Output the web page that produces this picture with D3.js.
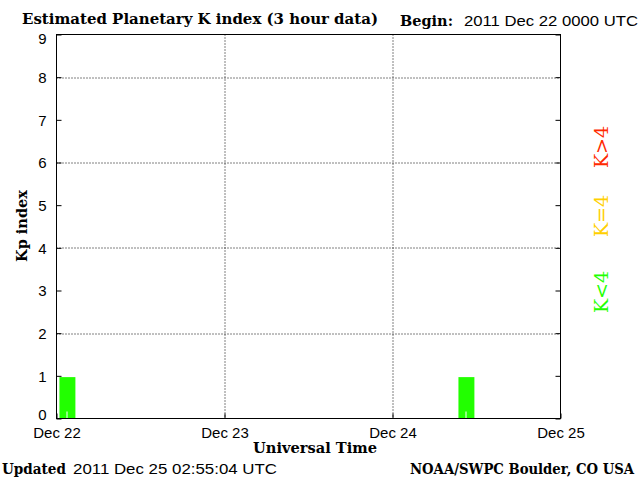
<!DOCTYPE html>
<html>
<head>
<meta charset="utf-8">
<script src="https://cdn.jsdelivr.net/npm/d3@7"></script>
<style>
  body { margin: 0; background: #fff; }
  svg { display: block; }
</style>
</head>
<body>
<div id="zone_graphique"></div>
<script>
var largeur = 640;
var hauteur = 480;

// donnees : debut de chaque periode de 3 h et valeur Kp
var periodes = ["2011-12-22T00:00Z", "2011-12-24T09:00Z"];
var valeursKp = [0.97, 0.97];
var ticksJours = ["2011-12-22T00:00Z", "2011-12-23T00:00Z", "2011-12-24T00:00Z", "2011-12-25T00:00Z"];
var etiquettesJours = ["Dec 22", "Dec 23", "Dec 24", "Dec 25"];
var ticksKp = [0, 1, 2, 3, 4, 5, 6, 7, 8, 9];
var grilleKp = [2, 4, 6, 8];
var legende = [
  {texte: "K<4", couleur: "#22ff00", y: 292},
  {texte: "K=4", couleur: "#ffd000", y: 216},
  {texte: "K>4", couleur: "#ff2a00", y: 147}
];

var marge = {haut: 34.5, droite: 79.5, bas: 61.5, gauche: 56.5},
    width = largeur - marge.gauche - marge.droite,
    height = hauteur - marge.haut - marge.bas;

var serif = "'DejaVu Serif', serif";
var sans = "'Liberation Sans', Arial, sans-serif";

var svg = d3.select("#zone_graphique")
    .append("svg")
        .attr("width", largeur)
        .attr("height", hauteur);

var g = svg.append("g")
    .attr("transform", "translate(" + marge.gauche + "," + marge.haut + ")");

var x = d3.scaleUtc()
    .domain([new Date(ticksJours[0]), new Date(ticksJours[3])])
    .range([0, width]);

var y = d3.scaleLinear()
    .domain([0, 9])
    .range([height, 0]);

var troisHeures = 3 * 3600 * 1000;

// grille pointillee
g.selectAll(".grilleH")
    .data(grilleKp)
    .enter()
    .append("line")
        .attr("x1", 0)
        .attr("x2", width)
        .attr("y1", function (d) { return Math.round(y(d)) + 0.5; })
        .attr("y2", function (d) { return Math.round(y(d)) + 0.5; })
        .attr("stroke", "#000")
        .attr("stroke-dasharray", "1,2");

g.selectAll(".grilleV")
    .data(ticksJours.slice(1, 3))
    .enter()
    .append("line")
        .attr("x1", function (d) { return Math.round(x(new Date(d))) + 0.5; })
        .attr("x2", function (d) { return Math.round(x(new Date(d))) + 0.5; })
        .attr("y1", 0)
        .attr("y2", height)
        .attr("stroke", "#000")
        .attr("stroke-dasharray", "1,2");

// barres
g.selectAll(".barre")
    .data(periodes)
    .enter()
    .append("rect")
        .attr("x", function (d) { return x(new Date(+new Date(d) + troisHeures * 0.14)); })
        .attr("width", function (d) { return x(new Date(+new Date(d) + troisHeures * 0.9)) - x(new Date(+new Date(d) + troisHeures * 0.14)); })
        .attr("y", function (d, i) { return y(valeursKp[i]); })
        .attr("height", function (d, i) { return height - y(valeursKp[i]); })
        .attr("fill", "#22ff00");

// petit trait blanc dans chaque barre
g.selectAll(".trait")
    .data(periodes)
    .enter()
    .append("line")
        .attr("x1", function (d) { return Math.round(x(new Date(+new Date(d) + troisHeures * 0.48))) + 0.5; })
        .attr("x2", function (d) { return Math.round(x(new Date(+new Date(d) + troisHeures * 0.48))) + 0.5; })
        .attr("y1", height - 7)
        .attr("y2", height)
        .attr("stroke", "#fff");

// cadre
g.append("rect")
    .attr("width", width)
    .attr("height", height)
    .attr("fill", "none")
    .attr("stroke", "#000");

// axes
var axeY = g.append("g")
    .call(d3.axisLeft(y).tickValues(ticksKp).tickSize(-5).tickPadding(10).tickFormat(d3.format("d")));
var axeYd = g.append("g")
    .attr("transform", "translate(" + width + ",0)")
    .call(d3.axisRight(y).tickValues(ticksKp).tickSize(-5).tickFormat(""));
var axeX = g.append("g")
    .attr("transform", "translate(0," + height + ")")
    .call(d3.axisBottom(x)
        .tickValues(ticksJours.map(function (d) { return new Date(d); }))
        .tickSize(-5).tickPadding(9)
        .tickFormat(function (d, i) { return etiquettesJours[i]; }));

[axeY, axeYd, axeX].forEach(function (a) {
    a.select(".domain").remove();
    a.selectAll("line").attr("stroke", "#000");
    a.selectAll("text")
        .attr("fill", "#000")
        .attr("font-family", sans)
        .attr("font-size", "15px");
});
axeY.selectAll("text").attr("dy", "0.35em");
axeY.selectAll("text").filter(function (d) { return d === 0; }).attr("dy", "0.05em");
axeY.selectAll("text").filter(function (d) { return d === 9; }).attr("dy", "0.6em");
axeX.selectAll("text").attr("dy", "0.71em");

// textes
svg.append("text")
    .attr("x", 22).attr("y", 24)
    .attr("font-family", serif).attr("font-weight", "bold").attr("font-size", "14px")
    .attr("textLength", 356).attr("lengthAdjust", "spacingAndGlyphs")
    .text("Estimated Planetary K index (3 hour data)");

svg.append("text")
    .attr("x", 400).attr("y", 26)
    .attr("font-family", serif).attr("font-weight", "bold").attr("font-size", "14px")
    .attr("textLength", 53).attr("lengthAdjust", "spacingAndGlyphs")
    .text("Begin:");

svg.append("text")
    .attr("x", 464).attr("y", 26)
    .attr("font-family", sans).attr("font-size", "15px")
    .attr("textLength", 174).attr("lengthAdjust", "spacingAndGlyphs")
    .text("2011 Dec 22 0000 UTC");

svg.append("text")
    .attr("transform", "translate(27,226) rotate(-90)")
    .attr("text-anchor", "middle")
    .attr("font-family", serif).attr("font-weight", "bold").attr("font-size", "14px")
    .attr("textLength", 72).attr("lengthAdjust", "spacingAndGlyphs")
    .text("Kp index");

svg.append("text")
    .attr("x", 315).attr("y", 453)
    .attr("text-anchor", "middle")
    .attr("font-family", serif).attr("font-weight", "bold").attr("font-size", "14px")
    .attr("textLength", 124).attr("lengthAdjust", "spacingAndGlyphs")
    .text("Universal Time");

svg.append("text")
    .attr("x", 2).attr("y", 474)
    .attr("font-family", serif).attr("font-weight", "bold").attr("font-size", "14px")
    .attr("textLength", 64).attr("lengthAdjust", "spacingAndGlyphs")
    .text("Updated");

svg.append("text")
    .attr("x", 73).attr("y", 474)
    .attr("font-family", sans).attr("font-size", "15px")
    .attr("textLength", 204).attr("lengthAdjust", "spacingAndGlyphs")
    .text("2011 Dec 25 02:55:04 UTC");

svg.append("text")
    .attr("x", 410).attr("y", 474)
    .attr("font-family", serif).attr("font-weight", "bold").attr("font-size", "14px")
    .attr("textLength", 224).attr("lengthAdjust", "spacingAndGlyphs")
    .text("NOAA/SWPC Boulder, CO USA");

// legende verticale
svg.selectAll(".legende")
    .data(legende)
    .enter()
    .append("text")
        .attr("transform", function (d) { return "translate(608," + d.y + ") rotate(-90)"; })
        .attr("text-anchor", "middle")
        .attr("font-family", serif).attr("font-size", "19px")
        .attr("fill", function (d) { return d.couleur; })
        .text(function (d) { return d.texte; });
</script>
</body>
</html>
